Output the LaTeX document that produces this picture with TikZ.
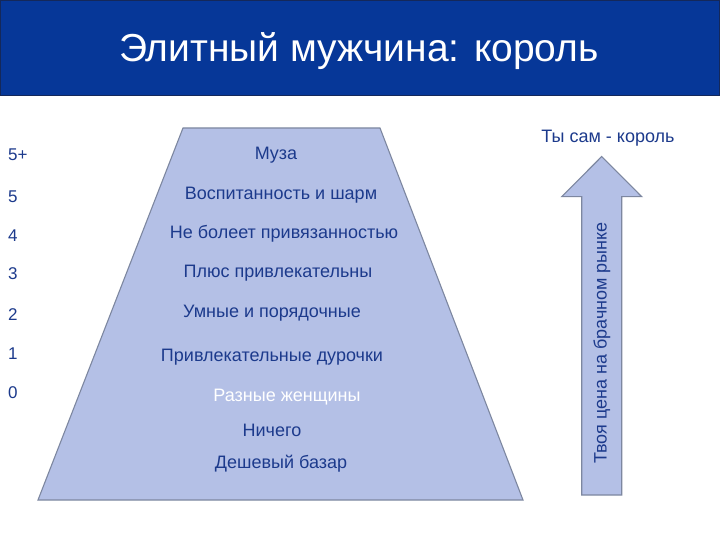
\documentclass[tikz,border=0pt]{standalone}
\usepackage{fontspec}
\setmainfont{Liberation Sans}
\definecolor{barblue}{RGB}{6,55,152}
\definecolor{barline}{RGB}{20,40,90}
\definecolor{pyrfill}{RGB}{180,192,230}
\definecolor{pyrline}{RGB}{125,135,160}
\definecolor{txtblue}{RGB}{28,58,140}
\tikzset{
  lvl/.style={text=txtblue, font=\fontsize{18}{20}\selectfont, inner sep=0pt},
  num/.style={text=txtblue, font=\fontsize{17}{19}\selectfont, inner sep=0pt, anchor=west},
  shapeline/.style={draw=pyrline, line width=1.1pt, fill=pyrfill, line join=miter}
}
\begin{document}
\begin{tikzpicture}[x=1pt,y=-1pt]
\useasboundingbox (0,0) rectangle (720,540);
\fill[white] (0,0) rectangle (720,540);
% title bar
\draw[fill=barblue, draw=barline, line width=0.8pt] (0.5,0.5) rectangle (719.5,95);
\node[text=white, font=\fontsize{39}{45}\selectfont, inner sep=0pt] (title) at (359,51) {Элитный мужчина: король};
% trapezoid
\coordinate (tl) at (183,128);
\coordinate (tr) at (380,128);
\coordinate (br) at (523,500);
\coordinate (bl) at (38,500);
\draw[shapeline] (tl) -- (tr) -- (br) -- (bl) -- cycle;
\node[lvl] (l1) at (276,155) {Муза};
\node[lvl] (l2) at (281,195) {Воспитанность и шарм};
\node[lvl] (l3) at (284,234) {Не болеет привязанностью};
\node[lvl] (l4) at (278,273) {Плюс привлекательны};
\node[lvl] (l5) at (272,313) {Умные и порядочные};
\node[lvl] (l6) at (272,357) {Привлекательные дурочки};
\node[lvl, text=white] (l7) at (287,397) {Разные женщины};
\node[lvl] (l8) at (272,430) {Ничего};
\node[lvl] (l9) at (281,464) {Дешевый базар};
% numbers
\node[num] (n5p) at (8,155) {5+};
\node[num] (n5) at (8,197) {5};
\node[num] (n4) at (8,236) {4};
\node[num] (n3) at (8,274) {3};
\node[num] (n2) at (8,315) {2};
\node[num] (n1) at (8,354) {1};
\node[num] (n0) at (8,393) {0};
% arrow
\coordinate (tip) at (601.7,156.5);
\coordinate (hl) at (561.7,196.7);
\coordinate (hr) at (641.7,196.7);
\coordinate (sl) at (581.7,196.7);
\coordinate (sr) at (621.7,196.7);
\coordinate (bl2) at (581.7,495);
\coordinate (br2) at (621.7,495);
\draw[shapeline] (tip) -- (hr) -- (sr) -- (br2) -- (bl2) -- (sl) -- (hl) -- cycle;
\node[lvl, rotate=90] (price) at (602,343) {Твоя цена на брачном рынке};
\node[lvl] (king) at (608,138) {Ты сам - король};
\end{tikzpicture}
\end{document}
